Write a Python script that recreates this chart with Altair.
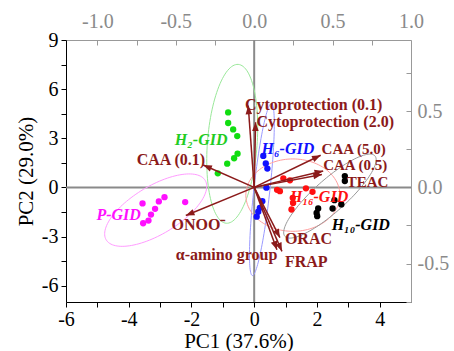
import altair as alt
import pandas as pd
import numpy as np

W, H = 345, 262
PC1_DOM = [-6, 5]
PC2_DOM = [-7, 9]
LX_DOM = [-1.2, 1.0]
LY_DOM = [-0.7527, 0.9677]
FONT = "Liberation Serif"
ARROW_COL = "#8B1A1A"

# ---- scores (PC1, PC2) ----
grp_names = ["H2", "H6", "H16", "H10", "P"]
h2_x = [-0.83, -0.83, -0.67, -0.54, -0.53, -0.64, -0.86, -1.16]
h2_y = [4.58, 3.93, 3.54, 3.13, 2.06, 1.78, 1.45, 0.86]
h6_x = [0.29, 0.37, 0.42, 0.39, 0.26, 0.18, 0.13, 0.08]
h6_y = [1.92, 1.46, 1.15, -0.02, -0.84, -1.25, -1.49, -1.79]
h16_x = [0.93, 1.14, 0.73, 0.82, 1.65, 1.86, 1.23, 1.24, 1.19]
h16_y = [0.55, 0.43, -0.15, -0.23, -0.06, -0.27, -0.64, -0.95, -1.35]
h10_x = [2.89, 2.89, 2.56, 2.78, 2.50, 2.04, 1.99, 2.01]
h10_y = [0.69, 0.39, -0.78, -1.04, -1.29, -1.29, -1.56, -1.76]
p_x = [-3.56, -3.04, -2.86, -2.20, -3.16, -3.29, -3.37, -3.54]
p_y = [-0.98, -0.86, -0.60, -0.90, -1.31, -1.66, -2.03, -2.19]

pt_colors = ["#11dd11", "#1010ff", "#ff1010", "#000000", "#ff10ff"]
ell_colors = ["#99e899", "#9a9aff", "#ff9e9e", "#999999", "#ff9cff"]
lab_colors = ["#22cc22", "#1010ff", "#ff1010", "#000000", "#ff10ff"]

# ---- confidence ellipses: centre, semi-axis vectors (PC units) ----
ell_cx = [-0.70, 0.246, 1.234, 2.415, -3.14]
ell_cy = [2.66, -0.135, -0.473, -0.534, -1.39]
ell_ax = [0.19, 0.303, 1.50, 1.435, 1.58]
ell_ay = [4.85, 5.25, 0.0, 2.456, 1.81]
ell_bx = [0.79, 0.254, 0.0, 0.34, 0.39]
ell_by = [-0.11, -0.054, 2.21, -0.74, -1.27]

# ---- group labels ----
glab_text = ["H\u2082-GID", "H\u2086-GID", "H\u2081\u2086-GID", "H\u2081\u2080-GID", "P-GID"]
glab_x = [-2.53, 0.236, 1.14, 2.47, -5.03]
glab_y = [2.89, 2.33, -0.60, -2.27, -1.66]

# ---- loadings ----
load_names = ["Cytoprotection (0.1)", "Cytoprotection (2.0)", "CAA (5.0)", "CAA (0.5)",
              "TEAC", "CAA (0.1)", "ONOO\u207b", "ORAC", "\u03b1-amino group", "FRAP"]
load_x = [-0.038, 0.009, 0.424, 0.440, 0.432, -0.325, -0.436, 0.164, 0.145, 0.177]
load_y = [0.537, 0.427, 0.211, 0.108, 0.085, 0.147, -0.185, -0.33, -0.41, -0.42]
llab_x = [-0.059, 0.015, 0.430, 0.440, 0.590, -0.749, -0.527, 0.196, -0.500, 0.196]
llab_y = [0.544, 0.427, 0.254, 0.146, 0.038, 0.178, -0.244, -0.341, -0.447, -0.493]
llab_size = [16, 16, 15, 15, 15, 16, 16, 16, 16, 16]

# ---------- tables ----------
xs = [h2_x, h6_x, h16_x, h10_x, p_x]
ys = [h2_y, h6_y, h16_y, h10_y, p_y]
pts = pd.concat([pd.DataFrame({"x": a, "y": b, "c": c})
                 for a, b, c in zip(xs, ys, pt_colors)])

t = np.linspace(0, 2 * np.pi, 121)
ell_rows = []
for i, g in enumerate(grp_names):
    ex = ell_cx[i] + ell_ax[i] * np.cos(t) + ell_bx[i] * np.sin(t)
    ey = ell_cy[i] + ell_ay[i] * np.cos(t) + ell_by[i] * np.sin(t)
    ell_rows.append(pd.DataFrame({"x": ex, "y": ey, "g": g, "c": ell_colors[i],
                                  "o": np.arange(len(t))}))
ell = pd.concat(ell_rows)

glab = pd.DataFrame({"x": glab_x, "y": glab_y, "c": lab_colors, "t": glab_text})

pxu_x = W / (LX_DOM[1] - LX_DOM[0])
pxu_y = H / (LY_DOM[1] - LY_DOM[0])
ang = [(np.degrees(np.arctan2(a * pxu_x, b * pxu_y)) + 360) % 360 for a, b in zip(load_x, load_y)]
load = pd.DataFrame({"n": load_names, "lx": load_x, "ly": load_y, "x0": 0.0, "y0": 0.0,
                     "ang": ang, "tx": llab_x, "ty": llab_y, "fs": llab_size})

# ---------- scales & axes ----------
pc_x_scale = alt.Scale(domain=PC1_DOM, nice=False, zero=False)
pc_y_scale = alt.Scale(domain=PC2_DOM, nice=False, zero=False)
ld_x_scale = alt.Scale(domain=LX_DOM, nice=False, zero=False)
ld_y_scale = alt.Scale(domain=LY_DOM, nice=False, zero=False)

common_ax = dict(grid=False, labelFont=FONT, labelFontSize=20, titleFont=FONT,
                 titleFontSize=21, titleFontWeight="normal")

ax_bottom = alt.Axis(orient="bottom", title="PC1 (37.6%)", values=list(range(-6, 5)),
                     labelExpr="datum.value % 2 == 0 ? replace(format(datum.value, 'd'), '\u2212', '-') : ''",
                     domainColor="black", tickColor="black", labelColor="black", titleColor="black",
                     tickSize=5, labelPadding=2, titlePadding=1, labelFlush=False, labelOverlap=False,
                     **common_ax)
ax_left = alt.Axis(orient="left", title="PC2 (29.0%)",
                   values=[-6, -4.5, -3, -1.5, 0, 1.5, 3, 4.5, 6, 7.5, 9],
                   labelExpr="datum.value % 3 == 0 ? replace(format(datum.value, 'd'), '\u2212', '-') : ''",
                   domainColor="black", tickColor="black", labelColor="black", titleColor="black",
                   tickSize=5, labelPadding=3, titlePadding=5, labelFlush=False, labelOverlap=False,
                   **common_ax)
lab_half = "datum.value % 0.5 == 0 ? replace(format(datum.value, '.1f'), '\u2212', '-') : ''"
ax_top = alt.Axis(orient="top", title=None, values=[-1.0, -0.5, 0.0, 0.5, 1.0],
                  labelExpr=lab_half, ticks=False, domainColor="#999999", labelColor="#8a8a8a",
                  labelPadding=9, labelFlush=False, labelOverlap=False, **common_ax)
ax_right = alt.Axis(orient="right", title=None, values=[-0.5, 0.0, 0.5],
                    labelExpr=lab_half, ticks=False, domainColor="#999999", labelColor="#8a8a8a",
                    labelPadding=6, labelFlush=False, labelOverlap=False, **common_ax)
ax_top_ticks = alt.Axis(orient="top", title=None,
                        values=[-1.0, -0.75, -0.5, -0.25, 0.25, 0.5, 0.75],
                        labels=False, domain=False, ticks=True, tickSize=5, offset=-5,
                        tickColor="#999999", grid=False)
ax_right_ticks = alt.Axis(orient="right", title=None,
                          values=[-0.75, -0.5, -0.25, 0.25, 0.5, 0.75],
                          labels=False, domain=False, ticks=True, tickSize=5, offset=-5,
                          tickColor="#999999", grid=False)

# ---------- PC layers ----------
hzero = alt.Chart(pd.DataFrame({"y": [0.0]})).mark_rule(color="#8a8a8a", strokeWidth=2).encode(
    y=alt.Y("y:Q", scale=pc_y_scale, axis=ax_left), x=alt.value(0), x2=alt.value(W))
vzero = alt.Chart(pd.DataFrame({"x": [0.0]})).mark_rule(color="#8a8a8a", strokeWidth=2).encode(
    x=alt.X("x:Q", scale=pc_x_scale, axis=ax_bottom), y=alt.value(0), y2=alt.value(H))

ellipses = alt.Chart(ell).mark_line(strokeWidth=1).encode(
    x=alt.X("x:Q", scale=pc_x_scale, axis=ax_bottom),
    y=alt.Y("y:Q", scale=pc_y_scale, axis=ax_left),
    color=alt.Color("c:N", scale=None),
    detail="g:N", order="o:Q")

points = alt.Chart(pts).mark_circle(size=40, opacity=1).encode(
    x=alt.X("x:Q", scale=pc_x_scale, axis=ax_bottom),
    y=alt.Y("y:Q", scale=pc_y_scale, axis=ax_left),
    color=alt.Color("c:N", scale=None))

glabels = alt.Chart(glab).mark_text(align="left", baseline="middle", font=FONT, fontSize=16,
                                    fontWeight="bold", fontStyle="italic").encode(
    x=alt.X("x:Q", scale=pc_x_scale, axis=ax_bottom),
    y=alt.Y("y:Q", scale=pc_y_scale, axis=ax_left),
    text="t:N",
    color=alt.Color("c:N", scale=None))

pc = alt.layer(hzero, vzero, ellipses, points, glabels)

# ---------- loading layers ----------
arrows = alt.Chart(load).mark_rule(color=ARROW_COL, strokeWidth=1.5).encode(
    x=alt.X("x0:Q", scale=ld_x_scale, axis=ax_top),
    y=alt.Y("y0:Q", scale=ld_y_scale, axis=ax_right),
    x2="lx:Q", y2="ly:Q")
heads = alt.Chart(load).mark_point(shape="M0,0L-0.38,1L0.38,1Z", filled=True, size=300,
                                   opacity=1, color=ARROW_COL, strokeWidth=0).encode(
    x=alt.X("lx:Q", scale=ld_x_scale, axis=ax_top),
    y=alt.Y("ly:Q", scale=ld_y_scale, axis=ax_right),
    angle=alt.Angle("ang:Q", scale=None))
llabels = alt.Chart(load).mark_text(align="left", baseline="middle", font=FONT,
                                    fontWeight="bold", color=ARROW_COL).encode(
    x=alt.X("tx:Q", scale=ld_x_scale, axis=ax_top),
    y=alt.Y("ty:Q", scale=ld_y_scale, axis=ax_right),
    size=alt.Size("fs:Q", scale=None),
    text="n:N")
ld_main = alt.layer(arrows, heads, llabels)
ld_ticks = alt.Chart(load).mark_point(opacity=0).encode(
    x=alt.X("lx:Q", scale=ld_x_scale, axis=ax_top_ticks),
    y=alt.Y("ly:Q", scale=ld_y_scale, axis=ax_right_ticks))
ld = alt.layer(ld_main, ld_ticks).resolve_axis(x="independent", y="independent")

chart = alt.layer(pc, ld).resolve_scale(x="independent", y="independent").properties(
    width=W, height=H,
    autosize=alt.AutoSizeParams(type="none"),
    padding={"left": 66, "top": 40, "right": 43, "bottom": 49},
).configure_view(stroke=None).configure(background="white")

chart.save("out.html", embed_options={"renderer": "svg", "actions": False})
